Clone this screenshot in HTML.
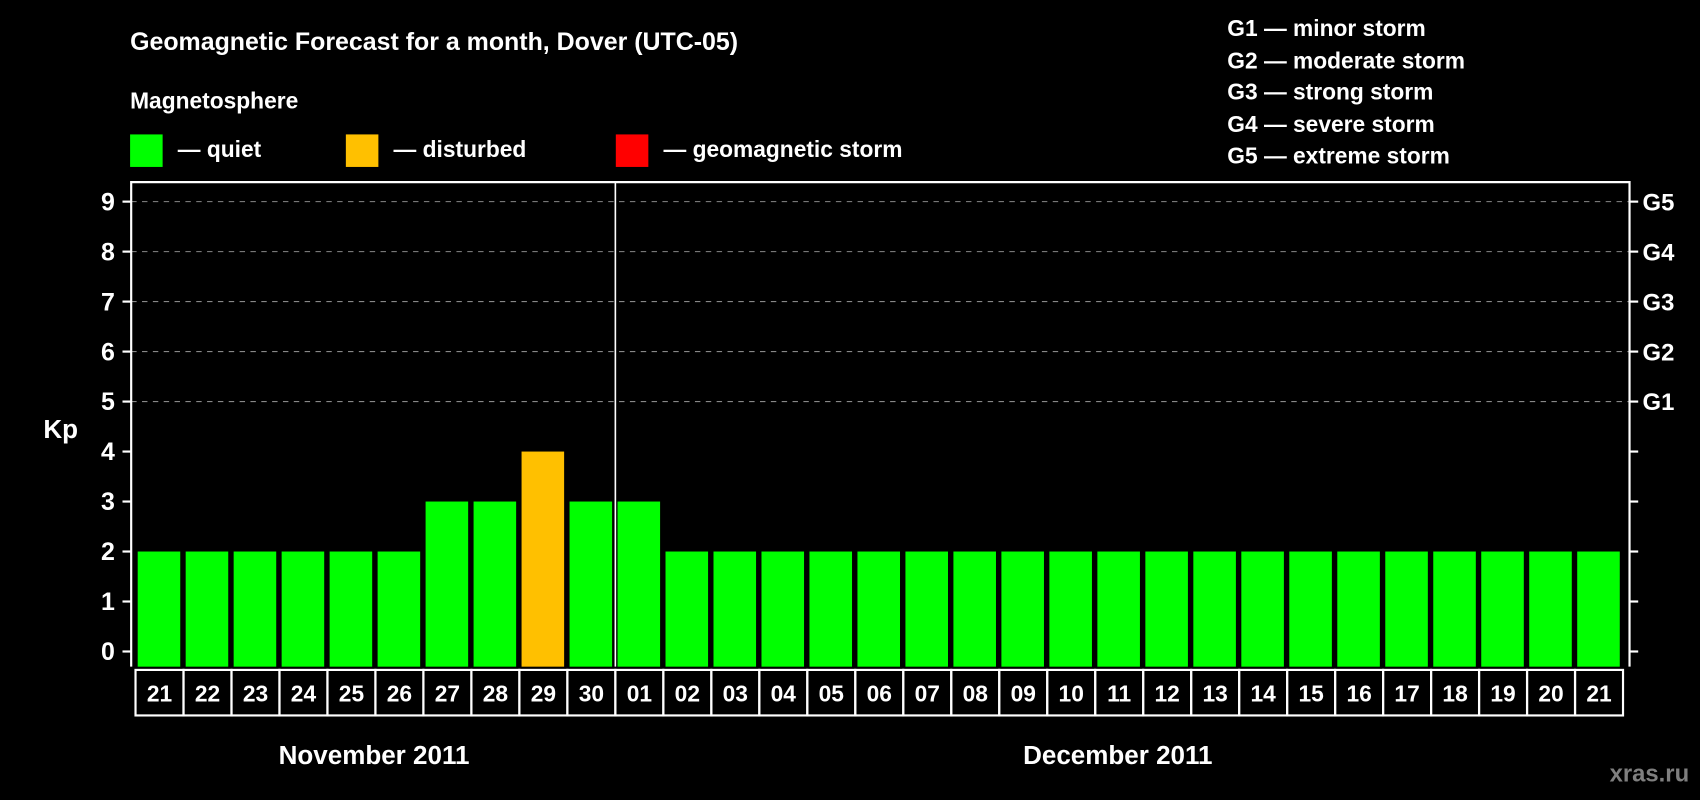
<!DOCTYPE html>
<html><head><meta charset="utf-8"><style>
html,body{margin:0;padding:0;background:#000;}
svg{display:block;}
text{font-family:"Liberation Sans",Arial,sans-serif;font-weight:bold;fill:#fff;}
</style></head><body>
<svg id="chart" width="1700" height="800" viewBox="0 0 1568 738" preserveAspectRatio="none" xmlns="http://www.w3.org/2000/svg">
<rect width="1568" height="738" fill="#000"/>
<text x="120" y="46" font-size="23">Geomagnetic Forecast for a month, Dover (UTC-05)</text>
<text x="120" y="100" font-size="21">Magnetosphere</text>
<g><rect x="120" y="124" width="30" height="30" fill="#00ff00"/><text x="164" y="145" font-size="21">— quiet</text></g>
<g><rect x="319" y="124" width="30" height="30" fill="#ffc000"/><text x="363" y="145" font-size="21">— disturbed</text></g>
<g><rect x="568" y="124" width="30" height="30" fill="#ff0000"/><text x="612" y="145" font-size="21">— geomagnetic storm</text></g>
<g font-size="21">
<text x="1132" y="33">G1 — minor storm</text>
<text x="1132" y="63">G2 — moderate storm</text>
<text x="1132" y="92">G3 — strong storm</text>
<text x="1132" y="122">G4 — severe storm</text>
<text x="1132" y="151">G5 — extreme storm</text>
</g>
<text x="40" y="404" font-size="24">Kp</text>
<g id="plot"></g>
<text x="345" y="705" font-size="24" text-anchor="middle">November 2011</text>
<text x="1031" y="705" font-size="24" text-anchor="middle">December 2011</text>
<text x="1558" y="721" font-size="22" text-anchor="end" style="fill:#7f7f7f">xras.ru</text>
</svg>
<script>
const days = ["21","22","23","24","25","26","27","28","29","30","01","02","03","04","05","06","07","08","09","10","11","12","13","14","15","16","17","18","19","20","21"];
const kpValues = [2,2,2,2,2,2,3,3,4,3,3,2,2,2,2,2,2,2,2,2,2,2,2,2,2,2,2,2,2,2,2];
const yTicks = [0,1,2,3,4,5,6,7,8,9];
const gLabels = ["G1","G2","G3","G4","G5"];
const gLevels = [5,6,7,8,9];

const NS="http://www.w3.org/2000/svg";
const g=document.getElementById('plot');
const L=121,R=1503,T=168,B=615,x0=125,pitch=(1497-125)/31;
const y=v=>601-v*(601-186)/9;
const x=i=>x0+i*pitch;
function mk(t,a,parent){const e=document.createElementNS(NS,t);for(const k in a)e.setAttribute(k,a[k]);(parent||g).appendChild(e);return e;}
function color(v){return v>=5?"#ff0000":(v>=4?"#ffc000":"#00ff00");}

gLevels.forEach((lv,i)=>{
  const l=mk('line',{x1:L,x2:R,y1:y(lv),y2:y(lv),stroke:'#888','stroke-dasharray':'5,5','stroke-width':1});
  
  
  const t=mk('text',{x:R+12,y:y(lv)+8,'font-size':22});
  t.textContent=gLabels[i];
  
  
});
kpValues.forEach((v,i)=>{
  const r=mk('rect',{x:x(i)+2,y:y(v),width:pitch-5,height:B-y(v),fill:color(v)});
  
  
});
yTicks.forEach(v=>{
  mk('line',{x1:L-8,x2:L,y1:y(v),y2:y(v),stroke:'#fff','stroke-width':2});
  mk('line',{x1:R,x2:R+8,y1:y(v),y2:y(v),stroke:'#fff','stroke-width':2});
  const t=mk('text',{x:106,y:y(v)+8,'font-size':23,'text-anchor':'end'});
  t.textContent=v;
  
  
});
const frame=mk('path',{d:`M${L},${B} V${T} H${R} V${B}`,fill:'none',stroke:'#fff','stroke-width':2});


const sep=mk('line',{x1:x(10),x2:x(10),y1:T,y2:B,stroke:'#fff','stroke-width':1.5});


days.forEach((d,i)=>{
  const c=mk('rect',{x:x(i),y:618,width:pitch,height:42,fill:'none',stroke:'#fff','stroke-width':2});
  
  
  const t=mk('text',{x:x(i)+pitch/2,y:647,'font-size':21,'text-anchor':'middle'});
  t.textContent=d;
  
  
});
</script>
</body></html>
